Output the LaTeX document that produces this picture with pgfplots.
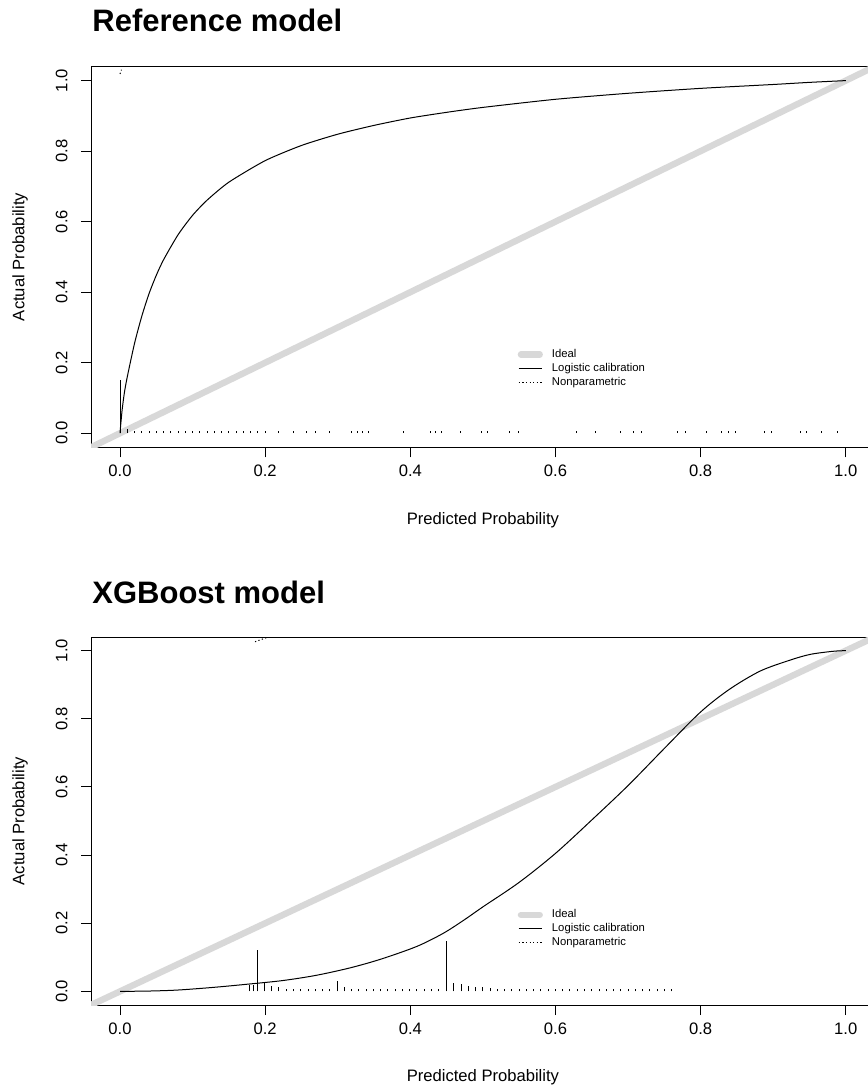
\documentclass[border=0pt]{standalone}
\usepackage{pgfplots}
\pgfplotsset{compat=1.18}
\usepackage{fontspec}
\setmainfont{Liberation Sans}
\definecolor{idealgray}{RGB}{216,216,216}
\newcommand{\lblfont}{\fontsize{8.3}{10}\selectfont}
\newcommand{\legfont}{\fontsize{5.65}{7}\selectfont}
\pgfplotsset{calib/.style={
  scale only axis, width=391.9pt,
  xmin=-0.04, xmax=1.04, ymin=-0.04, ymax=1.04,
  xtick={0,0.2,0.4,0.6,0.8,1}, ytick={0,0.2,0.4,0.6,0.8,1},
  xtick pos=lower, ytick pos=left,
  tick align=outside, major tick length=5pt,
  tick style={black, line width=0.5pt},
  axis line style={black, line width=0.5pt},
  /pgf/number format/fixed, /pgf/number format/fixed zerofill,
  /pgf/number format/precision=1, /pgf/number format/assume math mode=true,
  ticklabel style={font=\lblfont},
  yticklabel style={rotate=90, anchor=south, inner sep=0pt},
  xticklabel style={anchor=north, inner sep=0pt},
  xticklabel shift=3.5pt, yticklabel shift=6.5pt,
  label style={font=\lblfont},
  xlabel={Predicted Probability}, ylabel={Actual Probability},
  legend cell align=left,
  legend style={draw=none, fill=none, inner sep=0pt, outer sep=0pt,
    at={(axis cs:0.548,0.184)}, anchor=west, font=\legfont,
    nodes={inner sep=0pt, text height=4.3pt, text depth=1.2pt},
    row sep=1.4pt, column sep=4.5pt},
  legend image code/.code={\draw[#1] (0.5pt,0pt) -- (12pt,0pt);},
},
ideal legend/.style={legend image code/.code={\draw[##1, line cap=round] (1.6pt,0pt) -- (11pt,0pt);}}}
\begin{document}
\begin{tikzpicture}[x=1pt,y=1pt]
\useasboundingbox (0,0) rectangle (433.5,-545.5);
\node[anchor=base west, font=\fontsize{15.5}{18}\selectfont\bfseries, inner sep=0pt] at (46,-16) {Reference model};
\begin{axis}[calib, height=190.4pt, at={(45.5pt,-223.65pt)}, anchor=south west,
  xlabel style={at={(axis description cs:0.5,-0.191)}, anchor=center},
  ylabel style={at={(axis description cs:-0.0906,0.5)}, anchor=center}]
\addplot[idealgray, line width=3.2pt, line cap=round, ideal legend]
  coordinates {(-0.06,-0.06) (1.06,1.06)};
\addlegendentry{Ideal}
\addplot[black, line width=0.5pt, smooth, tension=0.4] coordinates {
(0,0) (0.001,0.025) (0.003,0.068) (0.006,0.115) (0.01,0.16) (0.02,0.255)
(0.03,0.332) (0.04,0.396) (0.05,0.448) (0.06,0.492) (0.08,0.563) (0.10,0.618)
(0.12,0.661) (0.15,0.712) (0.20,0.773) (0.25,0.816) (0.30,0.848) (0.35,0.873)
(0.40,0.894) (0.45,0.910) (0.50,0.924) (0.60,0.947) (0.70,0.964) (0.80,0.978)
(0.90,0.989) (0.95,0.995) (1.0,1.0)};
\addlegendentry{Logistic calibration}
\addplot[black, line width=0.5pt, dash pattern=on 0.6pt off 1.2pt] coordinates {(0,1.019) (0.002,1.031)};
\addlegendentry{Nonparametric}
\addplot[ycomb, black, line width=0.5pt, forget plot] coordinates {
(0,0.15) (0.01,0.012) (0.02,0.007) (0.03,0.005) (0.04,0.005) (0.05,0.005)
(0.06,0.005) (0.07,0.005) (0.08,0.005) (0.09,0.005) (0.10,0.005) (0.11,0.005)
(0.12,0.005) (0.13,0.005) (0.14,0.005) (0.15,0.005) (0.16,0.005) (0.17,0.005)
(0.18,0.005) (0.19,0.005) (0.20,0.005)
(0.218,0.005) (0.239,0.005) (0.257,0.005) (0.269,0.005) (0.289,0.005)
(0.319,0.005) (0.327,0.005) (0.334,0.005) (0.342,0.005) (0.390,0.005)
(0.428,0.005) (0.435,0.005) (0.443,0.005) (0.469,0.005) (0.498,0.005)
(0.506,0.005) (0.537,0.005) (0.549,0.005) (0.629,0.005) (0.655,0.005)
(0.689,0.005) (0.707,0.005) (0.718,0.005) (0.768,0.005) (0.779,0.005)
(0.808,0.005) (0.829,0.005) (0.838,0.005) (0.848,0.005) (0.888,0.005)
(0.898,0.005) (0.937,0.005) (0.946,0.005) (0.967,0.005) (0.988,0.005)};
\end{axis}
\node[anchor=base west, font=\fontsize{15.5}{18}\selectfont\bfseries, inner sep=0pt] at (46,-301.5) {XGBoost model};
\begin{axis}[calib, height=184pt, at={(45.5pt,-502.5pt)}, anchor=south west,
  xlabel style={at={(axis description cs:0.5,-0.1957)}, anchor=center},
  ylabel style={at={(axis description cs:-0.0906,0.5)}, anchor=center}]
\addplot[idealgray, line width=3.2pt, line cap=round, ideal legend]
  coordinates {(-0.06,-0.06) (1.06,1.06)};
\addlegendentry{Ideal}
\addplot[black, line width=0.5pt, smooth, tension=0.5] coordinates {
(0,0) (0.04,0.001) (0.08,0.004) (0.13,0.012) (0.18,0.022) (0.225,0.032)
(0.27,0.047) (0.317,0.069) (0.36,0.095) (0.409,0.132) (0.445,0.170)
(0.473,0.208) (0.5,0.248) (0.55,0.320) (0.6,0.405) (0.65,0.503) (0.70,0.604)
(0.75,0.713) (0.80,0.820) (0.84,0.887) (0.882,0.940) (0.923,0.972)
(0.951,0.989) (0.982,0.998) (1.0,1.0)};
\addlegendentry{Logistic calibration}
\addplot[black, line width=0.5pt, dash pattern=on 0.6pt off 1.2pt] coordinates {(0.186,1.026) (0.203,1.039)};
\addlegendentry{Nonparametric}
\addplot[ycomb, black, line width=0.5pt, forget plot] coordinates {
(0.178,0.02) (0.184,0.02) (0.189,0.1215) (0.199,0.029) (0.209,0.015)
(0.219,0.012) (0.229,0.008) (0.239,0.008) (0.249,0.008) (0.259,0.008)
(0.269,0.008) (0.279,0.008) (0.289,0.008) (0.299,0.03) (0.309,0.012)
(0.319,0.008) (0.329,0.008) (0.339,0.008) (0.349,0.008) (0.359,0.008)
(0.369,0.008) (0.379,0.008) (0.389,0.008) (0.399,0.008) (0.409,0.008)
(0.419,0.008) (0.429,0.008) (0.439,0.008) (0.4505,0.149) (0.46,0.024)
(0.47,0.021) (0.48,0.017) (0.49,0.012) (0.50,0.012) (0.51,0.01)
(0.52,0.007) (0.53,0.007) (0.54,0.007) (0.55,0.007) (0.56,0.007)
(0.57,0.007) (0.58,0.007) (0.59,0.007) (0.60,0.007) (0.61,0.007)
(0.62,0.007) (0.63,0.007) (0.64,0.007) (0.65,0.007) (0.66,0.007)
(0.67,0.007) (0.68,0.007) (0.69,0.007) (0.70,0.007) (0.71,0.007)
(0.72,0.007) (0.73,0.007) (0.74,0.007) (0.75,0.007) (0.76,0.007)};
\end{axis}
\end{tikzpicture}
\end{document}
